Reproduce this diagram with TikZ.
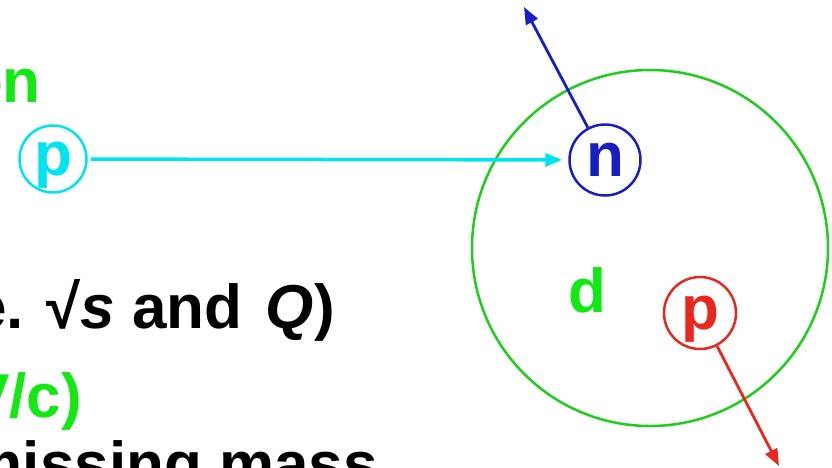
\documentclass[tikz,border=0pt]{standalone}
\usepackage{fontspec}
\setmainfont{Liberation Sans}
\usetikzlibrary{arrows.meta}
\definecolor{txtgreen}{RGB}{20,232,20}
\definecolor{ringgreen}{RGB}{30,205,30}
\definecolor{pcyan}{RGB}{0,228,240}
\definecolor{nblue}{RGB}{25,30,195}
\definecolor{pred}{RGB}{232,40,30}
\newcommand{\circlbl}[1]{\raisebox{-16pt}[0pt][0pt]{#1}}
\begin{document}
\begin{tikzpicture}[x=1pt,y=-1pt,
  big/.style={font=\fontsize{62}{70}\selectfont\bfseries},
  particle/.style={circle,draw,line width=2.5pt,inner sep=0pt,big},
  tipped/.style={-{Triangle[length=17pt,width=13pt]}},
  txt/.style={big,inner sep=0pt,anchor=base east}]
\useasboundingbox (0,0) rectangle (832,467);
\clip (0,0) rectangle (832,467);
% left text (cut off by the frame)
\node[txt,text=txtgreen] (t1) at (41,102) {on};
\node[txt] (t2) at (335,328) {e. √\textit{s} and\kern6pt{} \textit{Q})};
\node[txt,text=txtgreen] (t3) at (82,417) {V/c)};
\node[txt] (t4) at (378,485) {missing mass};
% deuteron
\node[circle,draw=ringgreen,line width=2.5pt,inner sep=0pt,minimum size=356pt] (deut) at (650,248) {};
\node[big,text=txtgreen,inner sep=0pt,anchor=base] (dl) at (587,312) {d};
% particles
\node[particle,color=pcyan,minimum size=67pt] (pc) at (53,159) {\circlbl{p}};
\node[particle,color=nblue,minimum size=71pt] (n) at (605,160) {\circlbl{n}};
\node[particle,color=pred,minimum size=72pt] (pr) at (700,313) {\circlbl{p}};
\coordinate (nout) at (524,7);
\coordinate (prout) at (779,466);
% arrows
\draw[pcyan,line width=3.5pt,tipped,shorten <=3pt,shorten >=6pt] (pc) -- (n);
\draw[nblue,line width=2.8pt,tipped] (n) -- (nout);
\draw[pred,line width=2.8pt,tipped] (pr) -- (prout);
\end{tikzpicture}
\end{document}
